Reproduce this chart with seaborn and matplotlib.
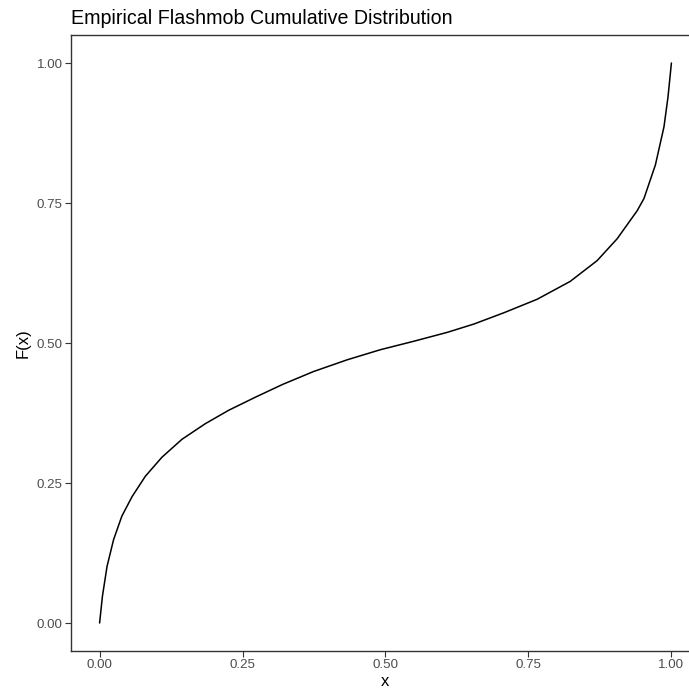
import matplotlib
matplotlib.use('Agg')
import matplotlib.pyplot as plt
import seaborn as sns
import pandas as pd

# values
x_vals = [0.0, 0.005, 0.013, 0.0245, 0.039, 0.057, 0.080, 0.109, 0.144, 0.185, 0.226,
          0.272, 0.320, 0.374, 0.433, 0.491, 0.549, 0.608, 0.655, 0.707, 0.765, 0.823,
          0.870, 0.905, 0.940, 0.952, 0.972, 0.987, 0.994, 1.0]
F_vals = [0.0, 0.048, 0.101, 0.149, 0.191, 0.226, 0.262, 0.296, 0.328, 0.356, 0.380,
          0.403, 0.426, 0.449, 0.470, 0.488, 0.503, 0.519, 0.534, 0.554, 0.578, 0.610,
          0.647, 0.686, 0.736, 0.758, 0.818, 0.886, 0.939, 1.0]
tick_vals = [0.0, 0.25, 0.5, 0.75, 1.0]
tick_labels = ['0.00', '0.25', '0.50', '0.75', '1.00']

df = pd.DataFrame({'x': x_vals, 'F': F_vals})

sns.set_style('white')
plt.rcParams['font.family'] = ['Liberation Sans', 'DejaVu Sans']

fig = plt.figure(figsize=(6.89, 6.91), dpi=100)
# panel runs past the right edge like in the reference
ax = fig.add_axes([71/689, (691-651)/691, (700-71)/689, (651-35)/691])

sns.lineplot(data=df, x='x', y='F', color='black', linewidth=1.1, ax=ax)
ax.lines[0].set_solid_joinstyle('round')

ax.set_xlim(-0.05, 1.05)
ax.set_ylim(-0.05, 1.05)
ax.set_xticks(tick_vals)
ax.set_xticklabels(tick_labels)
ax.set_yticks(tick_vals)
ax.set_yticklabels(tick_labels)
ax.tick_params(axis='both', length=4, width=0.8, color='#333333', labelcolor='#4d4d4d',
               labelsize=9.6, pad=2, direction='out', bottom=True, left=True)
for s in ax.spines.values():
    s.set_color('#333333')
    s.set_linewidth(1.0)

ax.set_xlabel('x', fontsize=12, color='black', labelpad=2)
ax.set_ylabel('F(x)', fontsize=12, color='black', labelpad=4)
ax.set_title('Empirical Flashmob Cumulative Distribution', loc='left', fontsize=14.1,
             color='black', pad=8)
ax.grid(False)

plt.savefig('out.png', dpi=100)
